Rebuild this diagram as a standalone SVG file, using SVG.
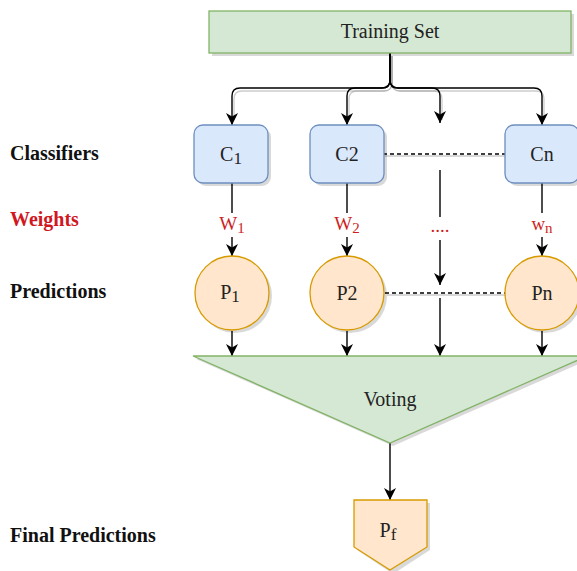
<svg xmlns="http://www.w3.org/2000/svg" width="577" height="571" viewBox="0 0 577 571">
<style>
.lbl{font-family:"Liberation Serif","Times New Roman",serif;font-weight:bold;font-size:20px;fill:#111}
.t{font-family:"Liberation Serif","Times New Roman",serif;font-size:20px;fill:#222;text-anchor:middle}
.w{font-family:"Liberation Serif","Times New Roman",serif;font-size:19px;fill:#cc1f1f;text-anchor:middle}
.green{fill:#d5e8d4;stroke:#82b366;stroke-width:1.3}
.blue{fill:#dae8fc;stroke:#6c8ebf;stroke-width:1.3}
.orange{fill:#ffe6cc;stroke:#d79b00;stroke-width:1.3}
.sh{fill:#000;opacity:0.15}
.e{fill:none;stroke:#000;stroke-width:1.4}
.esh{fill:none;stroke:#999;stroke-width:1.3;opacity:0.5}
.d{fill:none;stroke:#000;stroke-width:1.3;stroke-dasharray:4 3}
</style>
<defs>
<marker id="arr" viewBox="0 0 12 12" refX="12" refY="6" markerWidth="12" markerHeight="12" markerUnits="userSpaceOnUse" orient="auto">
<path d="M0,0 L12,6 L0,12 L3.5,6 Z" fill="#000"/>
</marker>
</defs>
<rect width="577" height="571" fill="#fff"/>
<g id="labels">
<text class="lbl" x="10" y="160">Classifiers</text>
<text class="lbl" x="10" y="226" style="fill:#d0181f">Weights</text>
<text class="lbl" x="10" y="298">Predictions</text>
<text class="lbl" x="10" y="542">Final Predictions</text>
</g>
<g id="connectors">
<path class="esh" d="M392,56 L392,83 Q392,91 384,91 L242,91 Q234,91 234,99 L234,120"/>
<path class="esh" d="M392,56 L392,83 Q392,91 384,91 L357,91 Q349,91 349,99 L349,120"/>
<path class="esh" d="M392,56 L392,83 Q392,91 400,91 L434,91 Q442,91 442,99 L442,120"/>
<path class="esh" d="M392,56 L392,83 Q392,91 400,91 L536,91 Q544,91 544,99 L544,120"/>
<path class="e" d="M390,53 L390,80 Q390,88 382,88 L240,88 Q232,88 232,96 L232,125" marker-end="url(#arr)"/>
<path class="e" d="M390,53 L390,80 Q390,88 382,88 L355,88 Q347,88 347,96 L347,125" marker-end="url(#arr)"/>
<path class="e" d="M390,53 L390,80 Q390,88 398,88 L432,88 Q440,88 440,96 L440,123" marker-end="url(#arr)"/>
<path class="e" d="M390,53 L390,80 Q390,88 398,88 L534,88 Q542,88 542,96 L542,125" marker-end="url(#arr)"/>
<path class="esh" d="M385,156 L505,156"/>
<path class="d" d="M383,154 L505,154"/>
<path class="esh" d="M387,295 L505,295"/>
<path class="d" d="M385,293 L505,293"/>
<path class="e" d="M232,183 L232,213"/>
<path class="e" d="M232,237 L232,256" marker-end="url(#arr)"/>
<path class="e" d="M347,183 L347,213"/>
<path class="e" d="M347,237 L347,256" marker-end="url(#arr)"/>
<path class="e" d="M542,183 L542,213"/>
<path class="e" d="M542,237 L542,256" marker-end="url(#arr)"/>
<path class="e" d="M440,170 L440,217"/>
<path class="e" d="M440,240 L440,285" marker-end="url(#arr)"/>
<path class="e" d="M440,298 L440,356" marker-end="url(#arr)"/>
<path class="e" d="M232,331 L232,356" marker-end="url(#arr)"/>
<path class="e" d="M347,331 L347,356" marker-end="url(#arr)"/>
<path class="e" d="M542,331 L542,356" marker-end="url(#arr)"/>
<path class="e" d="M390,443 L390,500" marker-end="url(#arr)"/>
</g>
<g id="weights">
<text class="w" x="232" y="230">W<tspan font-size="15" dy="3">1</tspan></text>
<text class="w" x="347" y="230">W<tspan font-size="15" dy="3">2</tspan></text>
<text class="w" x="542" y="230">w<tspan font-size="15" dy="3">n</tspan></text>
<text class="w" x="440" y="232" font-size="10">....</text>
</g>
<g id="training-set">
<rect class="sh" x="212" y="14" width="362" height="42"/>
<rect class="green" x="209" y="11" width="362" height="42"/>
<text class="t" x="390" y="38">Training Set</text>
</g>
<g id="c1">
<rect class="sh" x="197" y="128" width="74" height="58" rx="9"/>
<rect class="blue" x="194" y="125" width="74" height="58" rx="9"/>
<text class="t" x="231" y="161">C<tspan font-size="17" dy="3">1</tspan></text>
</g>
<g id="c2">
<rect class="sh" x="313" y="128" width="74" height="58" rx="9"/>
<rect class="blue" x="310" y="125" width="74" height="58" rx="9"/>
<text class="t" x="347" y="161">C2</text>
</g>
<g id="cn">
<rect class="sh" x="508" y="128" width="74" height="58" rx="9"/>
<rect class="blue" x="505" y="125" width="74" height="58" rx="9"/>
<text class="t" x="542" y="161">Cn</text>
</g>
<g id="p1">
<circle class="sh" cx="235" cy="296" r="37"/>
<circle class="orange" cx="232" cy="293" r="37"/>
<text class="t" x="230" y="299">P<tspan font-size="17" dy="3">1</tspan></text>
</g>
<g id="p2">
<circle class="sh" cx="350" cy="296" r="37"/>
<circle class="orange" cx="347" cy="293" r="37"/>
<text class="t" x="347" y="300">P2</text>
</g>
<g id="pn">
<circle class="sh" cx="545" cy="296" r="37"/>
<circle class="orange" cx="542" cy="293" r="37"/>
<text class="t" x="542" y="300">Pn</text>
</g>
<g id="voting">
<polygon class="sh" points="196,359 590,359 393,446"/>
<polygon class="green" points="193,356 587,356 390,443"/>
<text class="t" x="390" y="406">Voting</text>
</g>
<g id="pf">
<polygon class="sh" points="357,503 430,503 430,550 393,574 357,550"/>
<polygon class="orange" points="354,500 427,500 427,547 390,570 354,547"/>
<text class="t" x="388" y="537">P<tspan font-size="17" dy="3">f</tspan></text>
</g>
</svg>
